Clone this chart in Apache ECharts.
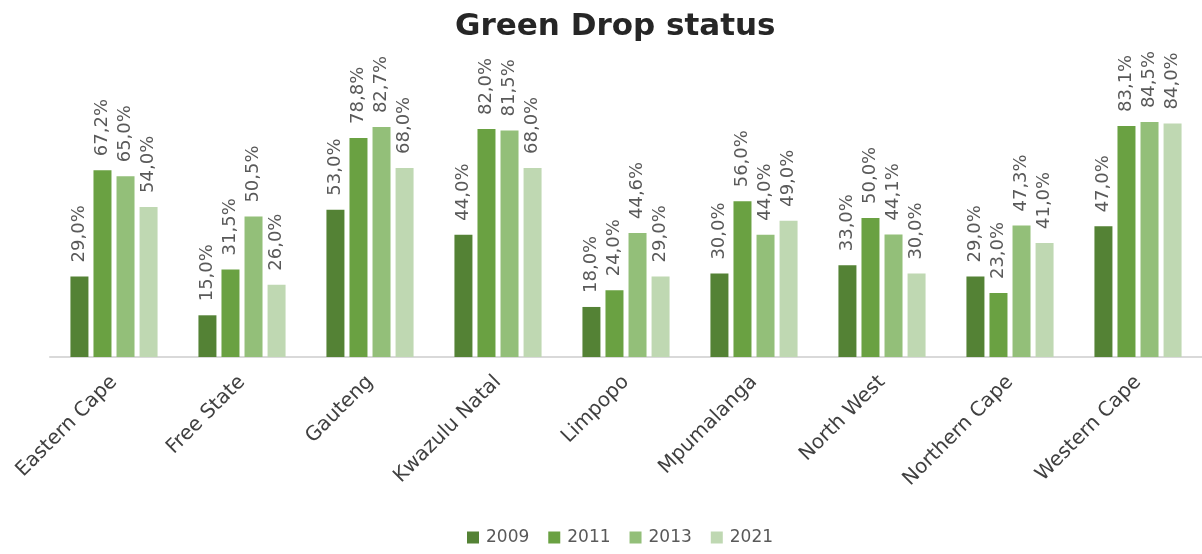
<!DOCTYPE html>
<html>
<head>
<meta charset="utf-8">
<script src="https://cdn.jsdelivr.net/npm/echarts@6/dist/echarts.min.js"></script>
<style>
  html, body { margin: 0; padding: 0; background: #fff; }
  #chart { width: 1202px; height: 554px; }
</style>
</head>
<body>
<div id="chart"></div>
<script>
  // provinces
  const provinces = ['Eastern Cape', 'Free State', 'Gauteng', 'Kwazulu Natal', 'Limpopo',
    'Mpumalanga', 'North West', 'Northern Cape', 'Western Cape'];
  const years = ['2009', '2011', '2013', '2021'];
  // green drop scores (%)
  const y2009 = [29.0, 15.0, 53.0, 44.0, 18.0, 30.0, 33.0, 29.0, 47.0];
  const y2011 = [67.2, 31.5, 78.8, 82.0, 24.0, 56.0, 50.0, 23.0, 83.1];
  const y2013 = [65.0, 50.5, 82.7, 81.5, 44.6, 44.0, 44.1, 47.3, 84.5];
  const y2021 = [54.0, 26.0, 68.0, 68.0, 29.0, 49.0, 30.0, 41.0, 84.0];
  const colors = ['#548235', '#6aa142', '#93bf79', '#bfd8b2'];

  const font = '"DejaVu Sans", sans-serif';
  let chart = echarts.init(document.getElementById('chart'));

  const makeSeries = (name, data, i) => ({
    name: name,
    type: 'bar',
    data: data,
    barWidth: 18,
    barGap: '28%',
    itemStyle: { color: colors[i] },
    label: {
      show: true,
      position: 'top',
      rotate: 90,
      align: 'left',
      verticalAlign: 'middle',
      distance: 14,
      color: '#595959',
      fontFamily: font,
      fontSize: 18,
      formatter: p => p.value.toFixed(1).replace('.', ',') + '%'
    }
  });

  chart.setOption({
    animation: false,
    title: {
      text: 'Green Drop status',
      left: 450,
      top: 6,
      textStyle: { fontFamily: font, fontSize: 31, fontWeight: 'bold', color: '#262626' }
    },
    legend: {
      bottom: 3,
      left: 462,
      itemWidth: 12,
      itemHeight: 12,
      itemGap: 19,
      icon: 'rect',
      textStyle: { fontFamily: font, fontSize: 17, color: '#595959', padding: [0, 0, 0, 2] },
      data: years
    },
    grid: { left: 50, top: 79, width: 1157, height: 278, containLabel: false },
    xAxis: {
      type: 'category',
      data: provinces,
      axisLine: { lineStyle: { color: '#d9d9d9', width: 2 } },
      axisTick: { show: false },
      axisLabel: {
        rotate: 45,
        margin: 22,
        interval: 0,
        color: '#404040',
        fontFamily: font,
        fontSize: 20
      }
    },
    yAxis: {
      type: 'value',
      min: 0,
      max: 100,
      show: false
    },
    series: [
      makeSeries(years[0], y2009, 0),
      makeSeries(years[1], y2011, 1),
      makeSeries(years[2], y2013, 2),
      makeSeries(years[3], y2021, 3)
    ]
  });
</script>
</body>
</html>
